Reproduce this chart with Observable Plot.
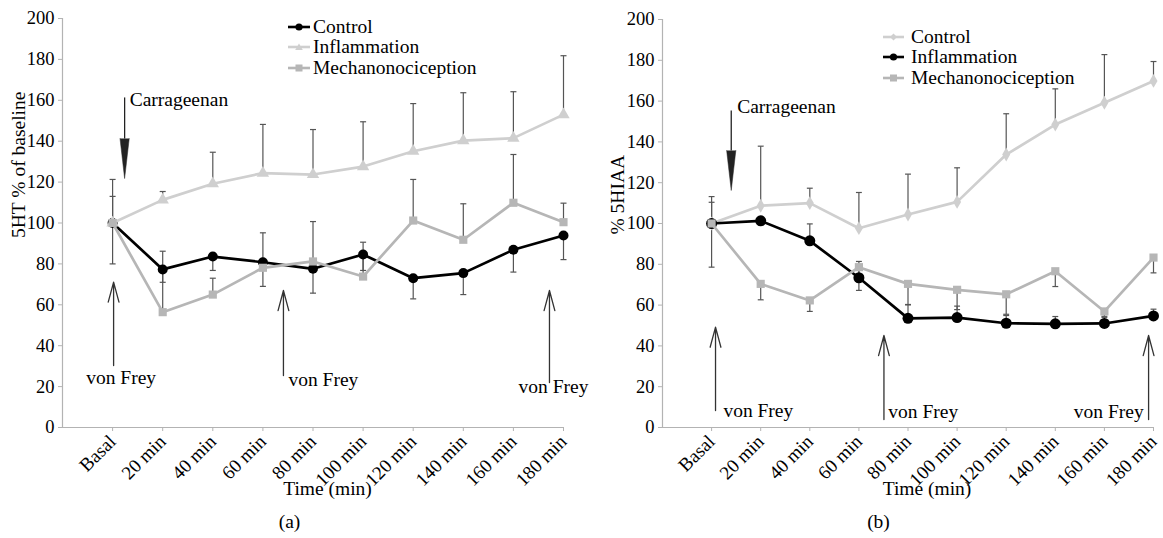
<!DOCTYPE html>
<html><head><meta charset="utf-8">
<script src="https://cdn.jsdelivr.net/npm/d3@7"></script>
<script src="https://cdn.jsdelivr.net/npm/@observablehq/plot@0.6"></script>
<style>
body{margin:0;background:#fff;}
#wrap{position:relative;width:1163px;height:538px;font-family:"Liberation Serif","Times New Roman",serif;overflow:hidden}
#wrap svg.pl{position:absolute;top:0;}
.legend{position:absolute;font-size:19.5px;color:#000;}
.legend .row{display:flex;align-items:center;height:20.5px;white-space:nowrap}
</style></head><body><div id="wrap"></div>
<script>
// ---- data ----
const categories = ["Basal","20 min","40 min","60 min","80 min","100 min","120 min","140 min","160 min","180 min"];
const yTicks = [0,20,40,60,80,100,120,140,160,180,200];
const seriesNames = ["Control","Inflammation","Mechanonociception"];

// Panel (a) 5HT % of baseline
const a_control      = [100, 77.3, 83.6, 80.8, 77.6, 84.6, 73.0, 75.5, 86.9, 93.9];
const a_control_err  = [80.0, 71.0, 76.8, 69.0, 65.7, 76.8, 62.9, 65.0, 76.0, 82.1];   // lower ends
const a_inflam       = [100, 111.3, 119.2, 124.4, 123.7, 127.6, 135.1, 140.3, 141.5, 153.0];
const a_inflam_err   = [121.3, 115.4, 134.6, 148.2, 145.7, 149.5, 158.4, 163.7, 164.2, 181.8]; // upper ends
const a_mech         = [100, 56.4, 65.0, 78.1, 81.2, 73.8, 101.2, 91.8, 109.9, 100.4];
const a_mech_err     = [113.0, 86.2, 73.0, 95.2, 100.7, 90.6, 121.3, 109.4, 133.5, 109.7]; // upper ends

// Panel (b) % 5HIAA
const b_control      = [100, 108.7, 110.0, 97.7, 104.4, 110.6, 133.8, 148.5, 159.2, 169.9];
const b_control_err  = [113.2, 137.9, 117.3, 115.2, 124.2, 127.3, 153.8, 166.0, 182.8, 179.4];
const b_inflam       = [100, 101.3, 91.5, 73.4, 53.5, 53.9, 51.1, 50.8, 51.0, 54.7];
const b_inflam_err   = [110.4, null, 99.8, 81.4, 60.1, 59.5, 54.9, 54.4, 54.0, 58.0];
const b_mech         = [100, 70.4, 62.3, 78.6, 70.4, 67.5, 65.3, 76.6, 56.9, 83.3];
const b_mech_err     = [78.6, 62.6, 56.9, 67.2, 60.3, 57.8, 55.5, 69.1, 54.5, 75.8];

// annotations (x in category index units, y in axis units)
const a_carr = {x: 0.24, y1: 161.4, yHead: 141.3, tx: 0.34, ty: 160.4};
const a_vonfrey = [
  {x: 0.02, y1: 30.3, y2: 71.1, tx: 0.17, ty: 24.1, anchor: "middle"},
  {x: 3.41, y1: 25.4, y2: 67.0, tx: 3.51, ty: 23.5, anchor: "start"},
  {x: 8.72, y1: 22.0, y2: 67.0, tx: 8.80, ty: 20.0, anchor: "middle"}
];
const b_carr = {x: 0.40, y1: 155.4, yHead: 135.8, tx: 0.52, ty: 157.4};
const b_vonfrey = [
  {x: 0.08, y1: 8.3, y2: 49.2, tx: 0.24, ty: 8.0, anchor: "start"},
  {x: 3.51, y1: 3.9, y2: 45.1, tx: 3.60, ty: 7.8, anchor: "start"},
  {x: 8.90, y1: 3.9, y2: 45.1, tx: 8.80, ty: 7.8, anchor: "end"}
];

const BLACK = "#000", LIGHT = "#cfcfcf", MID = "#b6b6b6", ERR = "#555", AXIS = "#b3b3b3";

function rows(values, errs) {
  return values.map((v, i) => ({i, v, e: errs ? errs[i] : null}));
}

function panel(o) {
  const marks = [
    Plot.ruleY([0], {stroke: AXIS, strokeWidth: 1.2}),
    Plot.ruleX([-1], {stroke: AXIS, strokeWidth: 1.2}),
    Plot.axisY({ticks: yTicks, tickSize: 4, tickPadding: 4, stroke: AXIS, fill: "black", fontSize: 18.5, label: null}),
    Plot.axisX({ticks: d3.range(categories.length), tickFormat: i => categories[i], tickRotate: -45, tickSize: 4, tickPadding: 7, stroke: AXIS, fill: "black", fontSize: 19, label: null})
  ];
  for (const s of o.series) {
    const r = rows(s.values, s.errs).filter(d => d.e != null);
    marks.push(Plot.link(r, {x1: "i", x2: "i", y1: "v", y2: "e", stroke: ERR, strokeWidth: 1.2}));
    marks.push(Plot.link(r, {x1: d => d.i - 0.06, x2: d => d.i + 0.06, y1: "e", y2: "e", stroke: ERR, strokeWidth: 1.2}));
  }
  for (const s of o.series) {
    const r = rows(s.values);
    marks.push(Plot.line(r, {x: "i", y: "v", stroke: s.color, strokeWidth: 2.7}));
    marks.push(Plot.dot(r, {x: "i", y: "v", fill: s.color, stroke: "none", symbol: s.symbol, r: s.r}));
  }
  // Carrageenan arrow
  const c = o.carr;
  marks.push(Plot.link([c], {x1: "x", x2: "x", y1: "y1", y2: "yHead", stroke: "#222", strokeWidth: 1.3}));
  marks.push(Plot.vector([c], {x: "x", y: "yHead", length: 40, rotate: 180, shape: "spike", r: 4.6, anchor: "start", fill: "#222", stroke: "#222", strokeWidth: 0.5}));
  marks.push(Plot.text([c], {x: "tx", y: "ty", text: () => "Carrageenan", textAnchor: "start", fontSize: 19.5, fill: "black"}));
  // von Frey arrows
  marks.push(Plot.arrow(o.vonfrey, {x1: "x", x2: "x", y1: "y1", y2: "y2", headLength: 24, headAngle: 30, stroke: "#333", strokeWidth: 1.3}));
  for (const anc of ["start", "middle", "end"]) {
    marks.push(Plot.text(o.vonfrey.filter(d => d.anchor === anc), {x: "tx", y: "ty", text: () => "von Frey", textAnchor: anc, fontSize: 19.5, fill: "black"}));
  }
  // labels
  marks.push(Plot.text([o.ylabel], {frameAnchor: "left", rotate: -90, dx: o.ylabelDx, dy: o.ylabelDy, fontSize: 19.5, fill: "black"}));
  marks.push(Plot.text(["Time (min)"], {frameAnchor: "bottom", dx: o.timeDx, dy: 67, fontSize: 19.5, fill: "black"}));
  marks.push(Plot.text([o.caption], {frameAnchor: "bottom", dx: o.capDx, dy: 100, fontSize: 19.5, fill: "black"}));

  const svg = Plot.plot({
    width: o.width, height: 538,
    marginLeft: o.marginLeft, marginRight: o.marginRight, marginTop: o.marginTop, marginBottom: 111,
    style: {fontFamily: '"Liberation Serif", "Times New Roman", serif', background: "transparent", overflow: "visible"},
    x: {domain: [-1, 9]},
    y: {domain: [0, 200]},
    marks
  });
  svg.classList.add("pl");
  svg.style.left = o.left + "px";
  return svg;
}

const wrap = document.getElementById("wrap");
wrap.appendChild(panel({
  left: 0, width: 581, marginLeft: 62, marginRight: 18, marginTop: 18,
  series: [
    {values: a_control, errs: a_control_err, color: BLACK, symbol: "circle", r: 5},
    {values: a_inflam, errs: a_inflam_err, color: LIGHT, symbol: "triangle", r: 4.6},
    {values: a_mech, errs: a_mech_err, color: MID, symbol: "square", r: 4.6}
  ],
  carr: a_carr, vonfrey: a_vonfrey,
  ylabel: "5HT % of baseline", ylabelDx: -44, ylabelDy: 15,
  timeDx: 14.5, caption: "(a)", capDx: -23.5
}));
wrap.appendChild(panel({
  left: 581, width: 582, marginLeft: 81, marginRight: 10, marginTop: 19,
  series: [
    {values: b_control, errs: b_control_err, color: LIGHT, symbol: "diamond", r: 4.2},
    {values: b_inflam, errs: b_inflam_err, color: BLACK, symbol: "circle", r: 5.5},
    {values: b_mech, errs: b_mech_err, color: MID, symbol: "square", r: 4.6}
  ],
  carr: b_carr, vonfrey: b_vonfrey,
  ylabel: "% 5HIAA", ylabelDx: -45, ylabelDy: 11,
  timeDx: 19, caption: "(b)", capDx: -29.5
}));

// legends
function glyph(color, shape, w) {
  const cx = w / 2, cy = 6;
  let m = "";
  if (shape === "circle") m = `<circle cx="${cx}" cy="${cy}" r="3.6" fill="${color}"/>`;
  if (shape === "triangle") m = `<path d="M${cx},${cy-3.5}L${cx+3.8},${cy+3}L${cx-3.8},${cy+3}Z" fill="${color}"/>`;
  if (shape === "square") m = `<rect x="${cx-3.5}" y="${cy-3.5}" width="7" height="7" fill="${color}"/>`;
  if (shape === "diamond") m = `<path d="M${cx},${cy-3.5}L${cx+3.5},${cy}L${cx},${cy+3.5}L${cx-3.5},${cy}Z" fill="${color}"/>`;
  return `<svg width="${w}" height="12" style="flex:none"><line x1="0" x2="${w}" y1="${cy}" y2="${cy}" stroke="${color}" stroke-width="2.6"/>${m}</svg>`;
}
function legend(left, top, items, w, gap) {
  const div = document.createElement("div");
  div.className = "legend";
  div.style.left = left + "px"; div.style.top = top + "px";
  div.innerHTML = items.map(([name, color, shape]) =>
    `<div class="row">${glyph(color, shape, w)}<span style="margin-left:${gap}px">${name}</span></div>`).join("");
  wrap.appendChild(div);
}
legend(288, 16.5, [[seriesNames[0], BLACK, "circle"], [seriesNames[1], LIGHT, "triangle"], [seriesNames[2], MID, "square"]], 22, 3);
legend(883, 26.5, [[seriesNames[0], LIGHT, "diamond"], [seriesNames[1], BLACK, "circle"], [seriesNames[2], MID, "square"]], 21, 7);
</script></body></html>
